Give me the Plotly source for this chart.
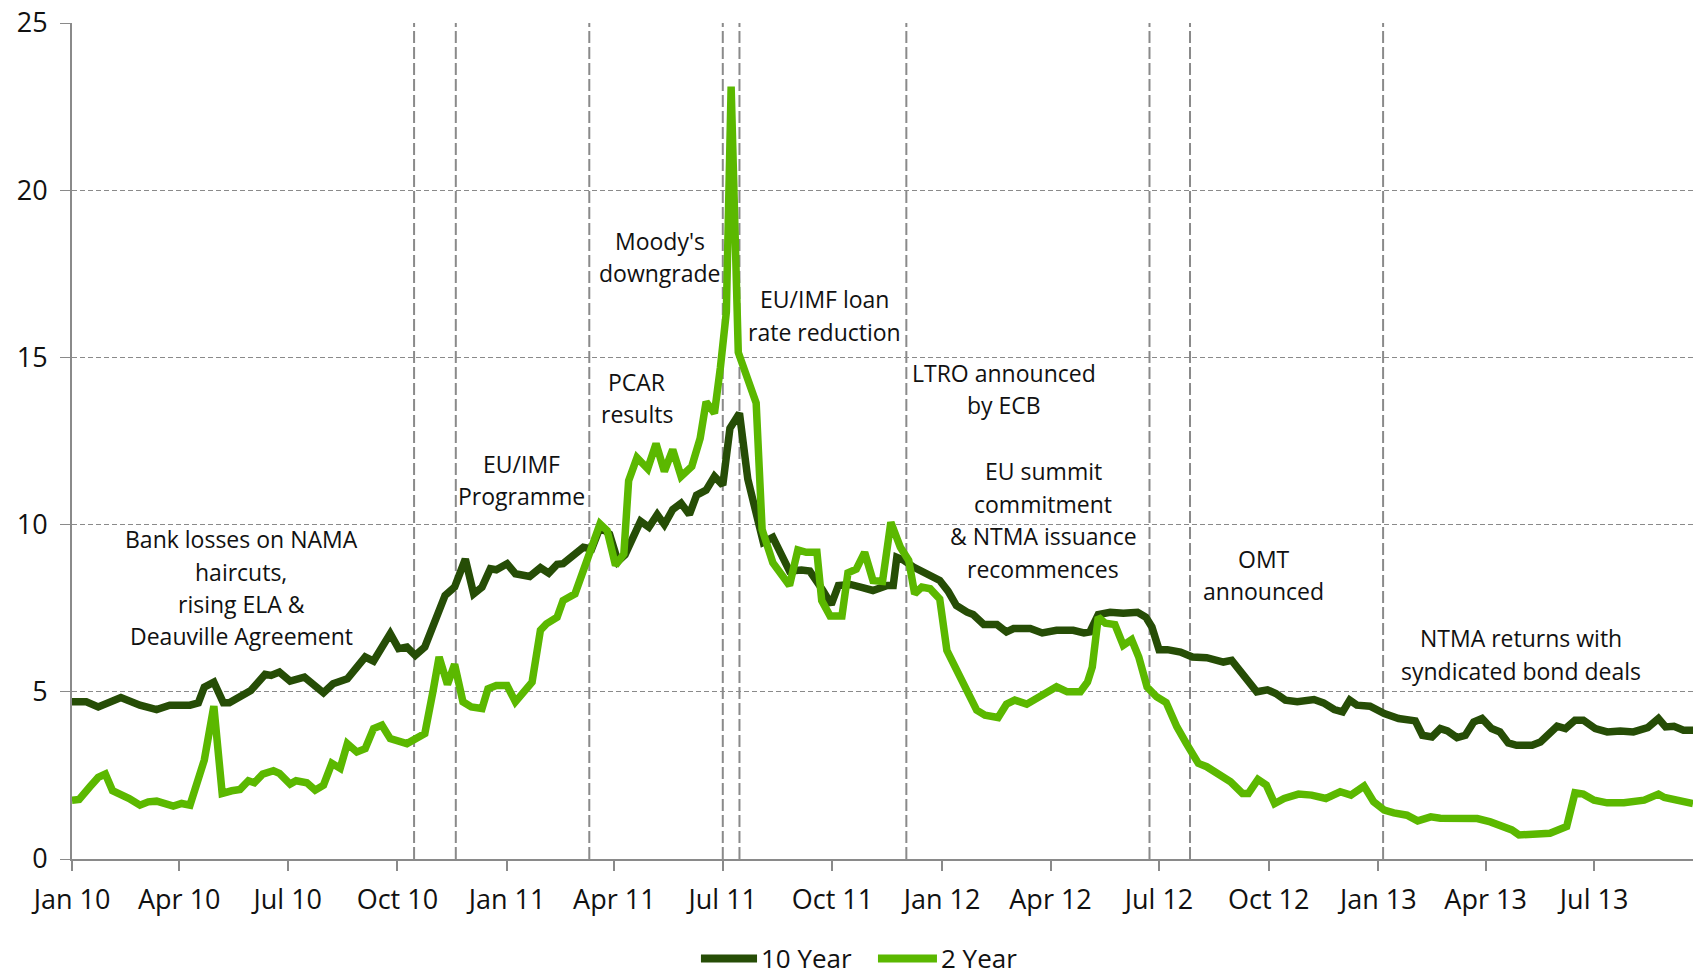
import plotly.graph_objects as go

# Irish government bond yields (%), weekly observations
ten_year_dates = [
    "2010-01-01", "2010-01-13", "2010-01-23", "2010-02-01", "2010-02-11", "2010-02-27",
    "2010-03-13", "2010-03-24", "2010-04-10", "2010-04-17", "2010-04-22", "2010-04-30",
    "2010-05-08", "2010-05-13", "2010-05-22", "2010-05-31", "2010-06-12", "2010-06-17",
    "2010-06-24", "2010-07-03", "2010-07-15", "2010-07-22", "2010-07-31", "2010-08-08",
    "2010-08-20", "2010-09-04", "2010-09-11", "2010-09-25", "2010-10-02", "2010-10-09",
    "2010-10-16", "2010-10-24", "2010-11-03", "2010-11-10", "2010-11-18", "2010-11-27",
    "2010-12-04", "2010-12-11", "2010-12-18", "2010-12-23", "2011-01-01", "2011-01-08",
    "2011-01-20", "2011-01-29", "2011-02-05", "2011-02-12", "2011-02-17", "2011-02-26",
    "2011-03-06", "2011-03-13", "2011-03-20", "2011-03-28", "2011-04-04", "2011-04-10",
    "2011-04-23", "2011-04-30", "2011-05-07", "2011-05-13", "2011-05-20", "2011-05-27",
    "2011-06-03", "2011-06-09", "2011-06-17", "2011-06-24", "2011-07-01", "2011-07-07",
    "2011-07-15", "2011-07-22", "2011-07-29", "2011-08-04", "2011-08-12", "2011-08-26",
    "2011-09-05", "2011-09-12", "2011-09-23", "2011-09-30", "2011-10-06", "2011-10-16",
    "2011-10-27", "2011-11-04", "2011-11-16", "2011-11-21", "2011-11-24", "2011-11-30",
    "2011-12-08", "2011-12-19", "2011-12-30", "2012-01-06", "2012-01-13", "2012-01-22",
    "2012-01-27", "2012-02-05", "2012-02-16", "2012-02-24", "2012-03-01", "2012-03-15",
    "2012-03-25", "2012-04-06", "2012-04-20", "2012-04-29", "2012-05-04", "2012-05-11",
    "2012-05-21", "2012-06-01", "2012-06-13", "2012-06-20", "2012-06-25", "2012-07-01",
    "2012-07-08", "2012-07-19", "2012-07-29", "2012-08-10", "2012-08-24", "2012-08-31",
    "2012-09-11", "2012-09-21", "2012-09-30", "2012-10-07", "2012-10-15", "2012-10-25",
    "2012-11-08", "2012-11-16", "2012-11-25", "2012-12-02", "2012-12-08", "2012-12-14",
    "2012-12-25", "2013-01-06", "2013-01-18", "2013-02-01", "2013-02-07", "2013-02-15",
    "2013-02-22", "2013-02-28", "2013-03-08", "2013-03-15", "2013-03-22", "2013-03-29",
    "2013-04-06", "2013-04-13", "2013-04-20", "2013-04-27", "2013-05-10", "2013-05-17",
    "2013-05-31", "2013-06-07", "2013-06-15", "2013-06-22", "2013-07-02", "2013-07-12",
    "2013-07-23", "2013-08-03", "2013-08-15", "2013-08-24", "2013-08-30", "2013-09-06",
    "2013-09-14", "2013-09-22",
]
ten_year_yield = [
    4.70, 4.70, 4.55, 4.67, 4.83, 4.60,
    4.47, 4.60, 4.60, 4.67, 5.14, 5.29,
    4.67, 4.67, 4.83, 5.04, 5.52, 5.49,
    5.59, 5.32, 5.44, 5.24, 4.97, 5.24,
    5.39, 6.04, 5.92, 6.74, 6.29, 6.34,
    6.09, 6.34, 7.33, 7.88, 8.13, 8.97,
    7.93, 8.13, 8.68, 8.65, 8.83, 8.53,
    8.45, 8.71, 8.55, 8.81, 8.83, 9.07,
    9.32, 9.27, 9.92, 9.72, 8.90, 9.10,
    10.10, 9.92, 10.30, 10.00, 10.45, 10.64,
    10.30, 10.88, 11.03, 11.44, 11.18, 12.88,
    13.33, 11.36, 10.30, 9.47, 9.62, 8.61,
    8.64, 8.61, 8.03, 7.61, 8.18, 8.21,
    8.11, 8.03, 8.18, 8.18, 9.02, 8.93,
    8.73, 8.51, 8.33, 8.01, 7.58, 7.38,
    7.31, 7.01, 7.01, 6.79, 6.89, 6.89,
    6.76, 6.84, 6.84, 6.76, 6.79, 7.31,
    7.38, 7.35, 7.38, 7.23, 6.94, 6.26,
    6.26, 6.19, 6.04, 6.02, 5.89, 5.94,
    5.44, 5.00, 5.06, 4.95, 4.75, 4.70,
    4.77, 4.67, 4.47, 4.40, 4.75, 4.60,
    4.57, 4.35, 4.20, 4.13, 3.70, 3.65,
    3.90, 3.83, 3.63, 3.70, 4.10, 4.20,
    3.90, 3.80, 3.47, 3.40, 3.40, 3.50,
    3.97, 3.90, 4.15, 4.15, 3.90, 3.80,
    3.83, 3.80, 3.93, 4.20, 3.95, 3.97,
    3.85, 3.85,
]

two_year_dates = [
    "2010-01-01", "2010-01-07", "2010-01-16", "2010-01-23", "2010-01-29", "2010-02-04",
    "2010-02-18", "2010-02-27", "2010-03-06", "2010-03-13", "2010-03-27", "2010-04-03",
    "2010-04-10", "2010-04-15", "2010-04-22", "2010-04-30", "2010-05-07", "2010-05-15",
    "2010-05-22", "2010-05-29", "2010-06-03", "2010-06-10", "2010-06-19", "2010-06-24",
    "2010-07-03", "2010-07-08", "2010-07-17", "2010-07-24", "2010-07-31", "2010-08-07",
    "2010-08-14", "2010-08-20", "2010-08-28", "2010-09-04", "2010-09-11", "2010-09-18",
    "2010-09-25", "2010-10-09", "2010-10-16", "2010-10-24", "2010-10-31", "2010-11-05",
    "2010-11-12", "2010-11-18", "2010-11-25", "2010-12-02", "2010-12-11", "2010-12-16",
    "2010-12-23", "2011-01-01", "2011-01-08", "2011-01-15", "2011-01-22", "2011-01-29",
    "2011-02-03", "2011-02-12", "2011-02-17", "2011-02-27", "2011-03-03", "2011-03-10",
    "2011-03-17", "2011-03-20", "2011-03-26", "2011-04-02", "2011-04-09", "2011-04-13",
    "2011-04-20", "2011-04-29", "2011-05-06", "2011-05-13", "2011-05-20", "2011-05-27",
    "2011-06-05", "2011-06-12", "2011-06-17", "2011-06-24", "2011-06-29", "2011-07-04",
    "2011-07-08", "2011-07-14", "2011-07-29", "2011-08-03", "2011-08-12", "2011-08-26",
    "2011-09-02", "2011-09-09", "2011-09-18", "2011-09-22", "2011-09-29", "2011-10-09",
    "2011-10-14", "2011-10-21", "2011-10-28", "2011-11-04", "2011-11-12", "2011-11-19",
    "2011-11-27", "2011-12-04", "2011-12-09", "2011-12-15", "2011-12-22", "2011-12-30",
    "2012-01-05", "2012-01-13", "2012-01-22", "2012-01-30", "2012-02-06", "2012-02-17",
    "2012-02-24", "2012-03-02", "2012-03-12", "2012-03-21", "2012-03-29", "2012-04-06",
    "2012-04-15", "2012-04-26", "2012-05-02", "2012-05-06", "2012-05-11", "2012-05-17",
    "2012-05-25", "2012-06-01", "2012-06-08", "2012-06-14", "2012-06-21", "2012-06-29",
    "2012-07-07", "2012-07-16", "2012-07-24", "2012-08-03", "2012-08-10", "2012-08-20",
    "2012-08-30", "2012-09-09", "2012-09-14", "2012-09-22", "2012-09-29", "2012-10-06",
    "2012-10-14", "2012-10-26", "2012-11-06", "2012-11-18", "2012-11-30", "2012-12-09",
    "2012-12-20", "2012-12-28", "2013-01-06", "2013-01-14", "2013-01-25", "2013-02-03",
    "2013-02-14", "2013-02-22", "2013-03-05", "2013-03-25", "2013-04-05", "2013-04-15",
    "2013-04-23", "2013-04-29", "2013-05-14", "2013-05-25", "2013-06-08", "2013-06-15",
    "2013-06-22", "2013-07-01", "2013-07-12", "2013-07-26", "2013-08-12", "2013-08-18",
    "2013-08-24", "2013-08-29", "2013-09-06", "2013-09-14", "2013-09-22",
]
two_year_yield = [
    1.76, 1.78, 2.16, 2.44, 2.54, 2.04,
    1.81, 1.61, 1.71, 1.73, 1.58, 1.66,
    1.61, 2.26, 2.96, 4.57, 1.96, 2.04,
    2.08, 2.34, 2.28, 2.54, 2.64, 2.56,
    2.24, 2.34, 2.28, 2.06, 2.21, 2.86,
    2.71, 3.45, 3.20, 3.30, 3.90, 4.00,
    3.60, 3.45, 3.60, 3.75, 5.04, 6.04,
    5.22, 5.82, 4.70, 4.55, 4.50, 5.09,
    5.19, 5.19, 4.70, 5.00, 5.29, 6.84,
    7.03, 7.23, 7.73, 7.93, 8.33, 8.88,
    9.72, 10.02, 9.82, 8.78, 9.12, 11.31,
    12.00, 11.67, 12.42, 11.59, 12.24, 11.44,
    11.74, 12.58, 13.67, 13.33, 14.70, 16.36,
    23.10, 15.15, 13.64, 9.85, 8.86, 8.18,
    9.24, 9.17, 9.17, 7.73, 7.27, 7.27,
    8.56, 8.67, 9.17, 8.33, 8.30, 10.07,
    9.32, 8.93, 7.93, 8.13, 8.08, 7.78,
    6.24, 5.69, 5.00, 4.45, 4.30, 4.23,
    4.63, 4.75, 4.63, 4.80, 5.00, 5.15,
    5.00, 5.00, 5.29, 5.74, 7.23, 7.05,
    7.01, 6.39, 6.56, 6.04, 5.14, 4.85,
    4.68, 3.95, 3.45, 2.86, 2.76, 2.51,
    2.31, 1.96, 1.96, 2.38, 2.21, 1.66,
    1.81, 1.94, 1.91, 1.81, 2.01, 1.91,
    2.18, 1.71, 1.46, 1.38, 1.31, 1.14,
    1.26, 1.22, 1.21, 1.21, 1.11, 0.97,
    0.87, 0.72, 0.72, 0.77, 0.97, 1.98,
    1.94, 1.76, 1.68, 1.68, 1.76, 1.86,
    1.94, 1.84, 1.78, 1.71, 1.66,
]

# Policy / market events marked with vertical lines
event_dates = [
    "2010-10-15", "2010-11-19", "2011-03-11", "2011-07-01", "2011-07-15",
    "2011-12-02", "2012-06-23", "2012-07-27", "2013-01-05",
]

event_labels = [
    ["Bank losses on NAMA", "haircuts,", "rising ELA &", "Deauville Agreement"],
    ["EU/IMF", "Programme"],
    ["PCAR", "results"],
    ["Moody's", "downgrade"],
    ["EU/IMF loan", "rate reduction"],
    ["LTRO announced", "by ECB"],
    ["EU summit", "commitment", "& NTMA issuance", "recommences"],
    ["OMT", "announced"],
    ["NTMA returns with", "syndicated bond deals"],
]
# where each event label block is centred (date, yield level)
label_anchor_dates = [
    "2010-05-23", "2011-01-13", "2011-04-20", "2011-05-09", "2011-09-24",
    "2012-02-22", "2012-03-26", "2012-09-27", "2013-05-01",
]
label_anchor_levels = [8.11, 11.33, 13.78, 18.01, 16.25, 14.05, 10.14, 8.50, 6.11]

series_names = ["10 Year", "2 Year"]

FONT = "Open Sans"
DARK = "#264d06"
LIGHT = "#5bb800"
GRID = "#8a8a8a"
TEXT = "#111111"
LINE_W = 7.5
LABEL_LINE_GAP = 32.4  # px between lines of an event label

fig = go.Figure()
fig.add_trace(go.Scatter(
    x=ten_year_dates, y=ten_year_yield, mode="lines", name=series_names[0],
    line=dict(color=DARK, width=LINE_W), showlegend=False,
))
fig.add_trace(go.Scatter(
    x=two_year_dates, y=two_year_yield, mode="lines", name=series_names[1],
    line=dict(color=LIGHT, width=LINE_W), showlegend=False,
))

for d in event_dates:
    fig.add_shape(
        type="line", xref="x", yref="y", x0=d, x1=d, y0=0, y1=25,
        line=dict(color=GRID, width=2, dash="12px,4px"), layer="below",
    )

for lines, d, lvl in zip(event_labels, label_anchor_dates, label_anchor_levels):
    n = len(lines)
    for i, line_text in enumerate(lines):
        fig.add_annotation(
            x=d, y=lvl, xref="x", yref="y", text=line_text, showarrow=False,
            xanchor="center", yanchor="middle",
            yshift=((n - 1) / 2 - i) * LABEL_LINE_GAP,
            font=dict(family=FONT, size=23, color=TEXT),
        )

# Legend below the axis: thick line swatch followed by the series name
# (positions are fractions of the plotting area)
legend_y = -0.119
legend_items = [
    (series_names[0], DARK, 0.388, 0.4226),
    (series_names[1], LIGHT, 0.4972, 0.5336),
]
for name, color, x0, x1 in legend_items:
    fig.add_shape(
        type="line", xref="paper", yref="paper", x0=x0, x1=x1,
        y0=legend_y, y1=legend_y, line=dict(color=color, width=8),
    )
    fig.add_annotation(
        x=x1 + 0.001, y=legend_y, xref="paper", yref="paper",
        text=name, showarrow=False, xanchor="left", yanchor="middle",
        font=dict(family=FONT, size=26, color=TEXT),
    )

fig.update_layout(
    width=1696, height=977,
    margin=dict(l=72, r=3, t=20, b=118),
    paper_bgcolor="white", plot_bgcolor="white",
    font=dict(family=FONT, color=TEXT),
    showlegend=False,
)

fig.update_xaxes(
    type="date", range=["2010-01-01", "2013-09-22"],
    tick0="2010-01-01", dtick="M3", tickformat="%b %y",
    showgrid=False, zeroline=False,
    showline=True, linecolor=GRID, linewidth=2,
    ticks="outside", ticklen=10, tickwidth=2, tickcolor=GRID,
    tickfont=dict(family=FONT, size=27, color=TEXT),
    ticklabelstandoff=6,
)
fig.update_yaxes(
    range=[0, 25], dtick=5, tick0=0,
    showgrid=True, gridcolor=GRID, gridwidth=1.3, griddash="5px,3px",
    zeroline=False,
    showline=True, linecolor=GRID, linewidth=2,
    ticks="outside", ticklen=10, tickwidth=1.3, tickcolor=GRID,
    tickfont=dict(family=FONT, size=27, color=TEXT),
    ticklabelstandoff=7,
)

fig.write_html("out.html")
